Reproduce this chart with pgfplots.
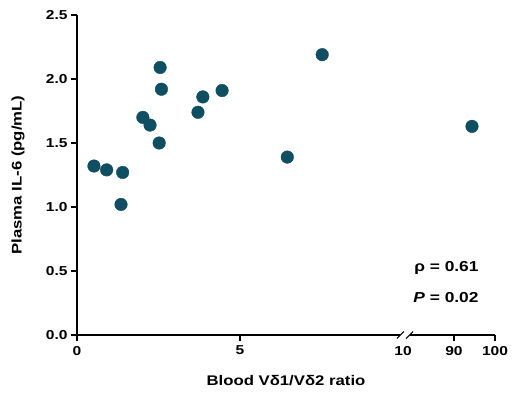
\documentclass[border=0pt]{standalone}
\usepackage{fontspec}
\setmainfont{Liberation Sans}[FakeStretch=1.2]
\usepackage{pgfplots}
\pgfplotsset{compat=1.18}
\definecolor{dotc}{RGB}{16,79,97}
\begin{document}
\begin{tikzpicture}
\begin{axis}[
  scale only axis,
  width=418bp, height=320bp,
  xmin=0, xmax=12.82, ymin=0, ymax=2.5,
  axis lines*=left,
  axis line style={line width=1.4pt, black},
  xtick={0,5,11.56,12.82}, xticklabels={0,5,90,100},
  ytick={0,0.5,...,2.5},
  yticklabel style={/pgf/number format/.cd,fixed,fixed zerofill,precision=1},
  tick style={line width=1.4pt, black},
  major tick length=6bp,
  xtick align=outside, ytick align=outside,
  xticklabel style={yshift=-1.5bp},
  ticklabel style={font=\fontsize{13}{15}\selectfont\bfseries, /pgf/number format/assume math mode=true},
  label style={font=\fontsize{14}{16}\selectfont\bfseries},
  xlabel={Blood V\symbol{"03B4}1/V\symbol{"03B4}2 ratio},
  ylabel={Plasma IL-6 (pg/mL)},
  xlabel style={at={(axis description cs:0.5,-0.144)}, anchor=center},
  ylabel style={at={(axis description cs:-0.141,0.5)}, anchor=center},
  clip=false,
]
% segment 0-10 (linear)
\addplot[only marks, mark=*, mark size=6.3bp, color=dotc] table {
x y
0.52 1.32
0.91 1.29
1.40 1.27
1.35 1.02
2.02 1.70
2.24 1.64
2.52 1.50
2.55 2.09
2.59 1.92
3.71 1.74
3.86 1.86
4.45 1.91
6.45 1.39
7.52 2.19
};
% segment 90-100 after the axis break
\addplot[only marks, mark=*, mark size=6.3bp, color=dotc] table[x expr={11.56+(\thisrow{x}-90)*0.126}, y=y] {
x y
94.4 1.63
};
% tick marks (outward)
\pgfplotsinvokeforeach{0,0.5,1,1.5,2,2.5}{
  \draw[line width=1.5pt, black] (axis cs:0,#1) -- ([xshift=-6bp]axis cs:0,#1);
}
\pgfplotsinvokeforeach{0,5,11.56,12.82}{
  \draw[line width=1.5pt, black] (axis cs:#1,0) -- ([yshift=-6bp]axis cs:#1,0);
}
% axis break
\fill[white] ([yshift=-2bp]axis cs:9.92,0) rectangle ([yshift=2bp]axis cs:10.2,0);
\draw[line width=1.1pt] ([xshift=-3.5bp,yshift=-3.5bp]axis cs:9.92,0) -- ([xshift=3.5bp,yshift=3.5bp]axis cs:9.92,0);
\draw[line width=1.1pt] ([xshift=-3.5bp,yshift=-3.5bp]axis cs:10.2,0) -- ([xshift=3.5bp,yshift=3.5bp]axis cs:10.2,0);
\node[anchor=north, inner sep=0pt, font=\fontsize{13}{15}\selectfont\bfseries] at ([yshift=-11bp]axis cs:10,0) {10};
\node[anchor=east, font=\fontsize{14.5}{16}\selectfont\bfseries] at (rel axis cs:0.969,0.21) {ρ = 0.61};
\node[anchor=east, font=\fontsize{14.5}{16}\selectfont\bfseries] at (rel axis cs:0.969,0.116) {\textit{P} = 0.02};
\path (rel axis cs:0,0) ++(-77bp,-65bp) rectangle ++(512bp,400bp);
\end{axis}
\end{tikzpicture}
\end{document}
